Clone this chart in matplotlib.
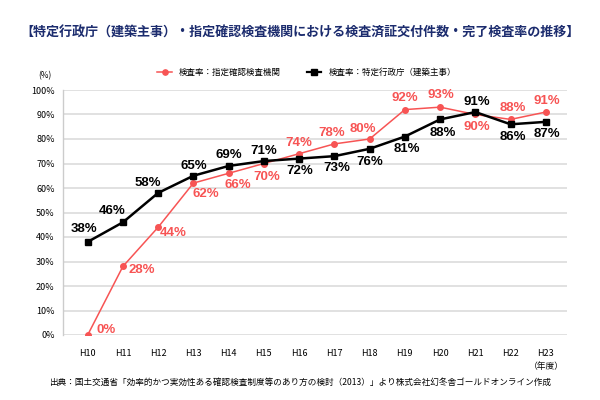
import matplotlib
matplotlib.use('Agg')
import matplotlib.pyplot as plt

plt.rcParams['font.family'] = ['Noto Sans CJK JP', 'DejaVu Sans']

years = ['H10', 'H11', 'H12', 'H13', 'H14', 'H15', 'H16', 'H17', 'H18', 'H19', 'H20', 'H21', 'H22', 'H23']
kikan = [0, 28, 44, 62, 66, 70, 74, 78, 80, 92, 93, 90, 88, 91]
gyosei = [38, 46, 58, 65, 69, 71, 72, 73, 76, 81, 88, 91, 86, 87]
yticks = [0, 10, 20, 30, 40, 50, 60, 70, 80, 90, 100]

RED = '#f75454'
NAVY = '#1c2c6e'

# label offsets in pixels (dx, dy), dy up positive
red_off = [(18, 5), (19, -4), (15, -6), (12, -11), (9, -12), (3, -13),
           (0, 11), (-3, 11), (-7, 10), (0, 12), (1, 12), (1, -12), (2, 11), (1, 11)]
blk_off = [(-4, 13), (-11, 11), (-10, 10), (0, 10), (0, 11), (0, 10),
           (1, -12), (2, -12), (0, -13), (2, -12), (3, -14), (1, 10), (2, -13), (1, -12)]

fig = plt.figure(figsize=(6, 4), dpi=100)
ax = fig.add_axes([63 / 600, 1 - 335 / 400, 504 / 600, 245 / 400])

x = list(range(len(years)))
ax.plot(x, kikan, color=RED, lw=1.1, marker='o', ms=4, zorder=3)
ax.plot(x, gyosei, color='black', lw=1.8, marker='s', ms=4, zorder=4)

lab_font = dict(family=['Liberation Sans', 'DejaVu Sans'], fontsize=9.5, fontweight='bold',
                ha='center', va='center')
for i in x:
    ax.annotate(f'{kikan[i]}%', (i, kikan[i]), xytext=red_off[i], textcoords='offset pixels',
                color=RED, zorder=5, **lab_font)
    ax.annotate(f'{gyosei[i]}%', (i, gyosei[i]), xytext=blk_off[i], textcoords='offset pixels',
                color='black', zorder=5, **lab_font)

ax.set_xlim(-0.7, 13.6)
ax.set_ylim(0, 100)
ax.set_yticks(yticks)
ax.set_yticklabels([f'{v}%' for v in yticks], fontsize=6.5)
ax.set_xticks(x)
ax.set_xticklabels(years, fontsize=6.5)
ax.tick_params(axis='both', length=0)
ax.tick_params(axis='x', pad=10)
ax.tick_params(axis='y', pad=6)
ax.grid(axis='y', color='#dcdcdc', lw=1.2)
ax.set_axisbelow(True)
for s in ['top', 'right', 'bottom']:
    ax.spines[s].set_visible(False)
ax.spines['left'].set_color('#cccccc')
ax.spines['left'].set_linewidth(1.0)

fig.text(0.5, 1 - 33 / 400, '【特定行政庁（建築主事）・指定確認検査機関における検査済証交付件数・完了検査率の推移】',
         ha='center', va='center', fontsize=9.4, fontweight='bold', color=NAVY)

# legend drawn by hand
ly = 1 - 72 / 400
fig.lines.append(plt.Line2D([157 / 600, 172 / 600], [ly, ly], color=RED, lw=1.1,
                            transform=fig.transFigure))
fig.lines.append(plt.Line2D([164.5 / 600], [ly], color=RED, marker='o', ms=3.8,
                            transform=fig.transFigure))
fig.text(179 / 600, ly, '検査率：指定確認検査機関', fontsize=6.1, va='center', ha='left')
fig.lines.append(plt.Line2D([307 / 600, 321 / 600], [ly, ly], color='black', lw=1.6,
                            transform=fig.transFigure))
fig.lines.append(plt.Line2D([314 / 600], [ly], color='black', marker='s', ms=3.8,
                            transform=fig.transFigure))
fig.text(329 / 600, ly, '検査率：特定行政庁（建築主事）', fontsize=6.1, va='center', ha='left')

fig.text(45 / 600, 1 - 76 / 400, '(%)', fontsize=6, ha='center', va='center')
fig.text(546 / 600, 1 - 366 / 400, '（年度）', fontsize=6.3, ha='center', va='center')
fig.text(0.5, 1 - 382 / 400,
         '出典：国土交通省「効率的かつ実効性ある確認検査制度等のあり方の検討（2013）」より株式会社幻冬舎ゴールドオンライン作成',
         ha='center', va='center', fontsize=6.2)

fig.savefig('out.png', dpi=100)
